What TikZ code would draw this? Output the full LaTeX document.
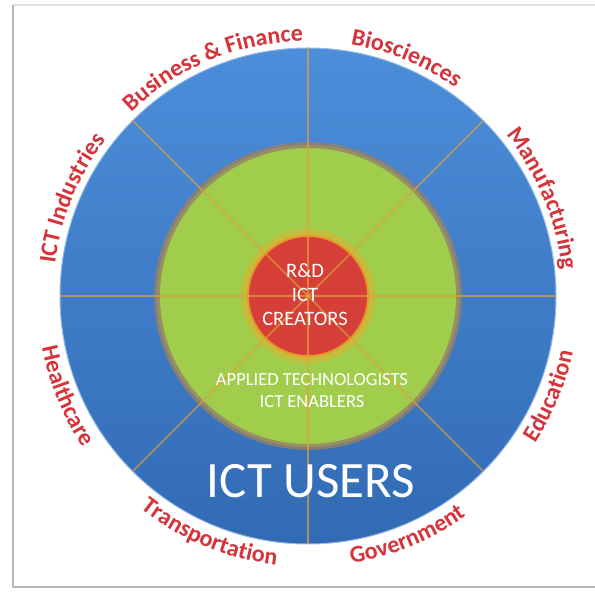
\documentclass[tikz,border=0pt]{standalone}
\usepackage{fontspec}
\setmainfont{Carlito}
\usetikzlibrary{decorations.text,calc}
\definecolor{usertop}{RGB}{76,142,218}
\definecolor{userbot}{RGB}{50,106,180}
\definecolor{enabgreen}{RGB}{160,206,76}
\definecolor{ringbrown}{RGB}{150,128,104}
\definecolor{creatred}{RGB}{214,62,56}
\definecolor{glow}{RGB}{240,170,40}
\definecolor{spokeorange}{RGB}{226,160,60}
\definecolor{labelred}{RGB}{212,52,58}
\tikzstyle{ring} = [circle, inner sep=0pt, outer sep=0pt]
\tikzstyle{spoke} = [line width=1.6pt, draw=spokeorange, draw opacity=0.7]
\tikzstyle{sector} = [decorate, decoration={text along path, text align=center, text color=labelred}]
\tikzstyle{inner} = [text=white, align=center]
\newcommand{\labelsize}{\bfseries\fontsize{24}{26}\selectfont}

\begin{document}
\begin{tikzpicture}[x=1pt, y=1pt]
            \useasboundingbox (0,0) rectangle (595,592);
            % frame
            \fill[white] (13,5) rectangle (600,587);
            \draw[gray!25, line width=1.5pt] (13,587) -- (600,587);
            \draw[gray!55, line width=2pt] (13,587) -- (13,5) -- (600,5);
            \coordinate (c) at (308,296);
            % circles
            \node (users) [ring, minimum size=496pt, top color=usertop, bottom color=userbot, draw=usertop!60!white, line width=1pt] at (c) {};
            \node (enablers) [ring, minimum size=302pt, fill=enabgreen, draw=ringbrown, draw opacity=0.8, line width=6pt] at (c) {};
            \node (halo) [ring, minimum size=134pt, fill=glow, opacity=0.45] at (c) {};
            \node (creators) [ring, minimum size=120pt, fill=creatred, draw=glow!80!creatred, line width=2pt] at (c) {};
            % spokes
            \draw [spoke] (users.0) -- (users.180);
            \draw [spoke] (users.45) -- (users.225);
            \draw [spoke] (users.90) -- (users.270);
            \draw [spoke] (users.135) -- (users.315);
            % texts
            \node (rd) [inner, font=\fontsize{20.5}{24}\selectfont] at (305,297) {R\&D\\ICT\\CREATORS};
            \node (appl) [inner, font=\fontsize{18.5}{22}\selectfont] at (312,201) {APPLIED TECHNOLOGISTS\\ICT ENABLERS};
            \node (usr) [inner, font=\fontsize{51}{55}\selectfont] at (311,111) {ICT USERS};
            % sector labels, upper half
            \path [sector, decoration={text={|\labelsize|ICT Industries}}] ($(c)+(197.5:255)$) arc[start angle=197.5, end angle=117.5, radius=255];
            \path [sector, decoration={text={|\labelsize|Business {\&} Finance}}] ($(c)+(152.5:255)$) arc[start angle=152.5, end angle=72.5, radius=255];
            \path [sector, decoration={text={|\labelsize|Biosciences}}] ($(c)+(107.5:255)$) arc[start angle=107.5, end angle=27.5, radius=255];
            \path [sector, decoration={text={|\labelsize|Manufacturing}}] ($(c)+(62.5:255)$) arc[start angle=62.5, end angle=-17.5, radius=255];
            % sector labels, lower half
            \path [sector, decoration={text={|\labelsize|Education}}] ($(c)+(-62.5:271)$) arc[start angle=-62.5, end angle=17.5, radius=271];
            \path [sector, decoration={text={|\labelsize|Government}}] ($(c)+(-107.5:271)$) arc[start angle=-107.5, end angle=-27.5, radius=271];
            \path [sector, decoration={text={|\labelsize|Transportation}}] ($(c)+(-152.5:271)$) arc[start angle=-152.5, end angle=-72.5, radius=271];
            \path [sector, decoration={text={|\labelsize|Healthcare}}] ($(c)+(-197.5:271)$) arc[start angle=-197.5, end angle=-117.5, radius=271];
\end{tikzpicture}
\end{document}
